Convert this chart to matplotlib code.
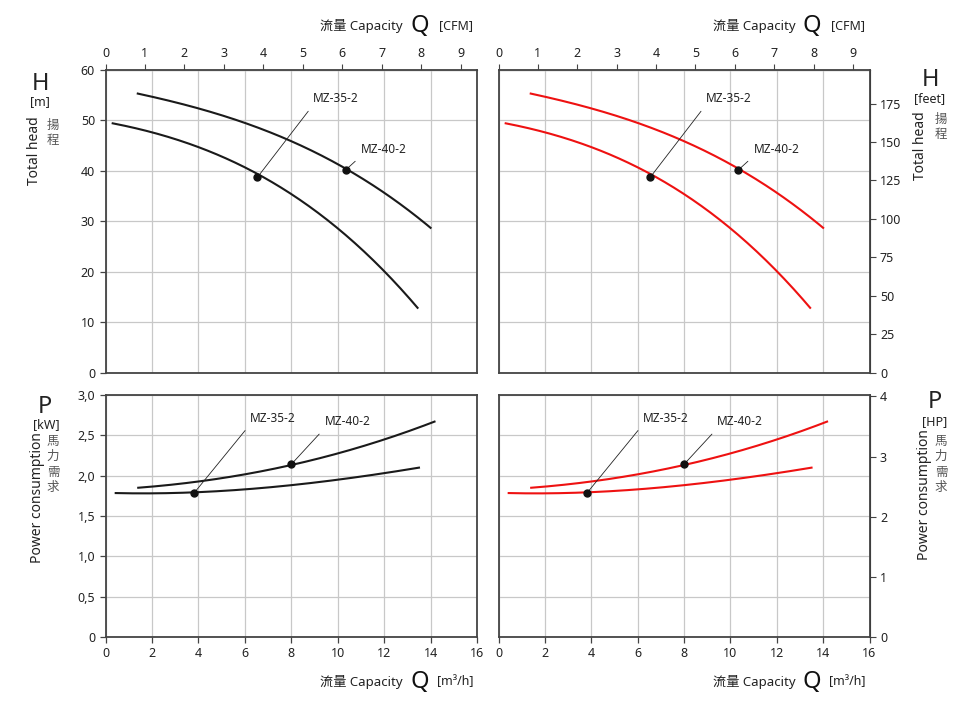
import matplotlib.pyplot as plt
import numpy as np
from matplotlib.ticker import FuncFormatter

plt.rcParams['font.family'] = ['Noto Sans', 'Noto Sans CJK TC']

# head curves, Q in m3/h, H in m
q40_h = [1.39, 2.64, 4.0, 6.03, 8.02, 10.0, 12.0, 14.0]
h40 = [55.2, 54.2, 52.4, 49.4, 45.8, 41.2, 35.9, 28.6]
q35_h = [0.31, 2.0, 4.0, 6.0, 8.0, 10.0, 12.0, 13.44]
h35 = [49.3, 47.8, 44.8, 40.8, 34.9, 28.6, 20.7, 12.5]
# duty points
pt40_h = (10.35, 40.2)
pt35_h = (6.54, 38.7)

# power curves, P in kW
q40_p = [1.41, 4.0, 6.0, 8.0, 10.0, 12.0, 14.17]
p40 = [1.85, 1.93, 2.01, 2.14, 2.27, 2.45, 2.67]
q35_p = [0.44, 3.83, 6.0, 8.0, 10.0, 12.0, 13.5]
p35 = [1.785, 1.79, 1.835, 1.88, 1.95, 2.03, 2.10]
pt40_p = (8.0, 2.14)
pt35_p = (3.83, 1.79)

M3H_PER_CFM = 1.699
FT_PER_M = 3.28084
KW_PER_HP = 0.7457

W, H = 968, 708
fig = plt.figure(figsize=(W / 100, H / 100), dpi=100)

def box(x0, y0, x1, y1):
    return [x0 / W, 1 - y1 / H, (x1 - x0) / W, (y1 - y0) / H]

def ftext(x, y, s, **kw):
    fig.text(x / W, 1 - y / H, s, **kw)

def vchars(x, y, s, step=15.5):
    # chinese label written top to bottom
    for k, ch in enumerate(s):
        ftext(x, y + k * step, ch, ha='center', va='center', fontsize=9, color='#555555')

spine_c = '#444444'
grid_c = '#c8c8c8'
txt_c = '#222222'

def style(ax):
    for s in ax.spines.values():
        s.set_color(spine_c)
        s.set_linewidth(1.3)
    ax.tick_params(colors=txt_c, labelsize=9, length=4, width=0.9, color=spine_c)
    ax.grid(True, color=grid_c, lw=0.9)
    ax.set_axisbelow(True)
    ax.set_xlim(0, 16)
    ax.set_xticks(np.arange(0, 17, 2))

def smooth(x, y):
    c = np.polyfit(x, y, 3)
    xs = np.linspace(x[0], x[-1], 200)
    return xs, np.polyval(c, xs)

def curves(ax, data, color):
    for qx, vy in data:
        xs, ys = smooth(qx, vy)
        ax.plot(xs, ys, color=color, lw=1.5)

def label(ax, name, pt, off):
    ax.plot(*pt, 'o', color='#111111', ms=5, zorder=5)
    ax.annotate(name, xy=pt, xytext=off, textcoords='offset points',
                ha='left', va='bottom', fontsize=8.5, color=txt_c,
                arrowprops=dict(arrowstyle='-', lw=0.6, color='#222222',
                                relpos=(0, 0), shrinkA=3, shrinkB=0))

cols = [('#1a1a1a', 105.5, 477), ('#ee1111', 498.5, 869.5)]

for i, (color, x0, x1) in enumerate(cols):
    # head panel
    ax = fig.add_axes(box(x0, 70, x1, 372.5))
    style(ax)
    ax.set_ylim(0, 60)
    ax.set_yticks(np.arange(0, 61, 10))
    ax.tick_params(axis='x', labelbottom=False, bottom=False)
    curves(ax, [(q40_h, h40), (q35_h, h35)], color)
    label(ax, 'MZ-35-2', pt35_h, (40, 52))
    label(ax, 'MZ-40-2', pt40_h, (11, 10))
    top = ax.secondary_xaxis('top', functions=(lambda q: q / M3H_PER_CFM,
                                               lambda c: c * M3H_PER_CFM))
    top.set_xticks(range(10))
    top.tick_params(labelsize=9, length=4, colors=txt_c, color=spine_c)
    if i == 1:
        ax.tick_params(axis='y', left=False, labelleft=False)
        sec = ax.secondary_yaxis('right', functions=(lambda m: m * FT_PER_M,
                                                     lambda f: f / FT_PER_M))
        sec.set_yticks(np.arange(0, 176, 25))
        sec.tick_params(labelsize=9, length=4, colors=txt_c, color=spine_c)

    # power panel
    bx = fig.add_axes(box(x0, 395, x1, 637))
    style(bx)
    bx.set_ylim(0, 3)
    bx.set_yticks(np.arange(0, 3.01, 0.5))
    bx.yaxis.set_major_formatter(FuncFormatter(
        lambda v, p: '0' if v == 0 else f'{v:.1f}'.replace('.', ',')))
    curves(bx, [(q40_p, p40), (q35_p, p35)], color)
    label(bx, 'MZ-35-2', pt35_p, (40, 49))
    label(bx, 'MZ-40-2', pt40_p, (24, 26))
    if i == 1:
        bx.tick_params(axis='y', left=False, labelleft=False)
        sec = bx.secondary_yaxis('right', functions=(lambda k: k / KW_PER_HP,
                                                     lambda h: h * KW_PER_HP))
        sec.set_yticks(range(5))
        sec.tick_params(labelsize=9, length=4, colors=txt_c, color=spine_c)

    # capacity titles
    for y, unit in [(26, '[CFM]'), (682, '[m³/h]')]:
        xr = x1 - 4
        ftext(xr, y, unit, ha='right', va='center', fontsize=9, color=txt_c)
        ftext(xr - 44, y, 'Q', ha='right', va='center', fontsize=17, color='#111111')
        ftext(xr - 70, y, '流量 Capacity', ha='right', va='center', fontsize=9.5, color=txt_c)

# left labels
ftext(40, 84, 'H', ha='center', va='center', fontsize=17, color=txt_c)
ftext(40, 102, '[m]', ha='center', va='center', fontsize=9, color=txt_c)
ftext(34, 151, 'Total head', ha='center', va='center', rotation=90, fontsize=10, color=txt_c)
vchars(53, 125, '揚程')

ftext(45, 407, 'P', ha='center', va='center', fontsize=17, color=txt_c)
ftext(46, 425, '[kW]', ha='center', va='center', fontsize=9, color=txt_c)
ftext(38, 498, 'Power consumption', ha='center', va='center', rotation=90, fontsize=10, color=txt_c)
vchars(53, 441, '馬力需求')

# right labels
ftext(930, 80, 'H', ha='center', va='center', fontsize=17, color=txt_c)
ftext(930, 99, '[feet]', ha='center', va='center', fontsize=9, color=txt_c)
ftext(920, 146, 'Total head', ha='center', va='center', rotation=90, fontsize=10, color=txt_c)
vchars(941, 119, '揚程')

ftext(935, 402, 'P', ha='center', va='center', fontsize=17, color=txt_c)
ftext(935, 422, '[HP]', ha='center', va='center', fontsize=9, color=txt_c)
ftext(925, 495, 'Power consumption', ha='center', va='center', rotation=90, fontsize=10, color=txt_c)
vchars(941, 441, '馬力需求')

fig.savefig('out.png', dpi=100, facecolor='white')
